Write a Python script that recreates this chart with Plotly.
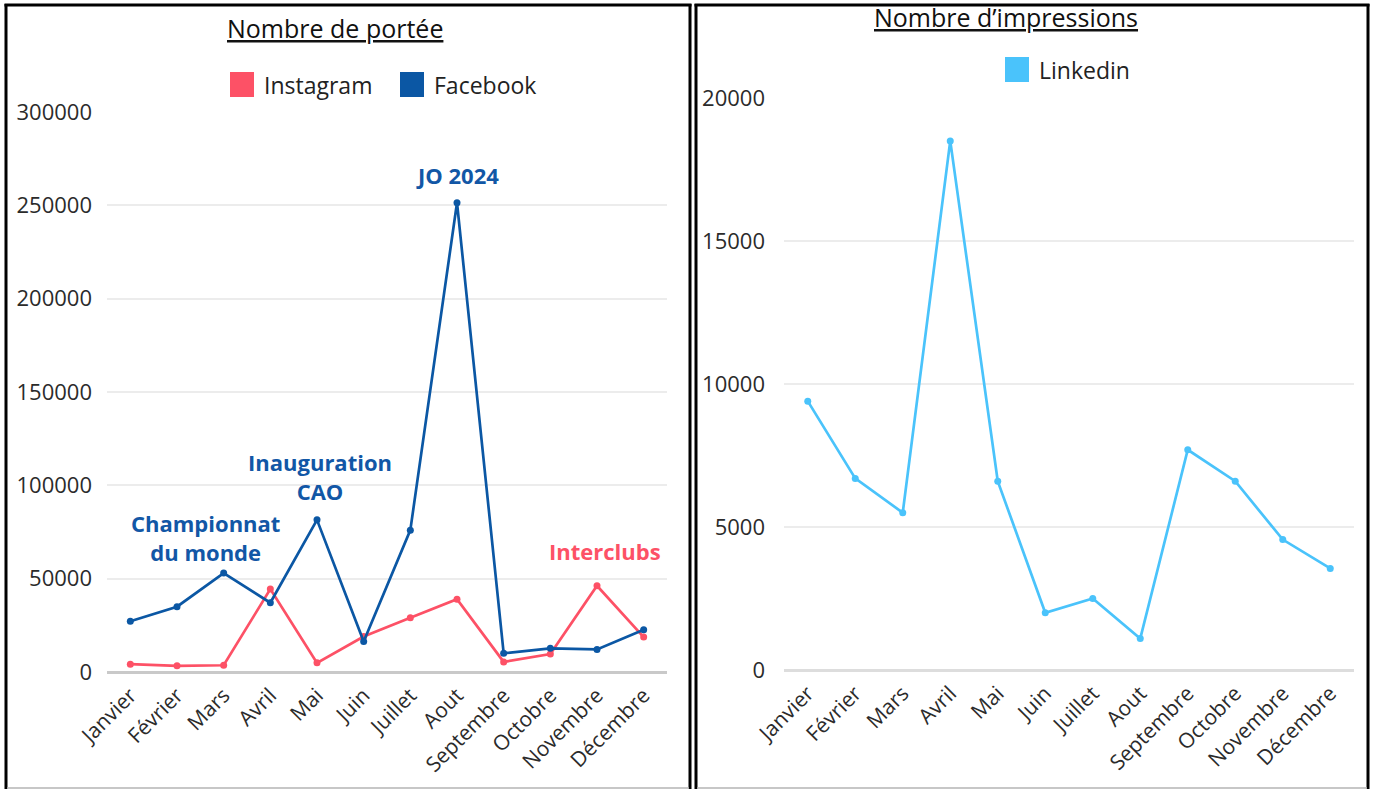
import plotly.graph_objects as go

W, H = 1376, 789

months = ["Janvier", "Février", "Mars", "Avril", "Mai", "Juin", "Juillet",
          "Aout", "Septembre", "Octobre", "Novembre", "Décembre"]
instagram = [4200, 3300, 3600, 44400, 4900, 19000, 29000, 39000, 5400, 9600, 46200, 18700]
facebook = [27200, 35000, 53000, 37100, 81500, 16300, 76000, 251400, 10000, 12700, 12100, 22600]
linkedin = [9400, 6700, 5500, 18500, 6600, 2000, 2500, 1100, 7700, 6600, 4560, 3550]

left_yticks = [0, 50000, 100000, 150000, 200000, 250000, 300000]
right_yticks = [0, 5000, 10000, 15000, 20000]

C_INSTA = "#fd5166"
C_FB = "#0b57a4"
C_LI = "#4ac3fb"
FONT = "Open Sans"


def px(x):
    return x / W


def py(y):
    return 1 - y / H


fig = go.Figure()

fig.add_trace(go.Scatter(x=months, y=instagram, name="Instagram", mode="lines+markers",
                         line=dict(color=C_INSTA, width=2.7), marker=dict(size=7, color=C_INSTA),
                         xaxis="x", yaxis="y", showlegend=False))
fig.add_trace(go.Scatter(x=months, y=facebook, name="Facebook", mode="lines+markers",
                         line=dict(color=C_FB, width=2.7), marker=dict(size=7, color=C_FB),
                         xaxis="x", yaxis="y", showlegend=False))
fig.add_trace(go.Scatter(x=months, y=linkedin, name="Linkedin", mode="lines+markers",
                         line=dict(color=C_LI, width=2.7), marker=dict(size=7, color=C_LI),
                         xaxis="x2", yaxis="y2", showlegend=False))

tickfont = dict(family=FONT, size=22, color="#2b2b2b")
xtickfont = dict(family=FONT, size=21, color="#2b2b2b")

fig.update_layout(
    width=W, height=H,
    margin=dict(l=0, r=0, t=0, b=0),
    paper_bgcolor="white", plot_bgcolor="white",
    showlegend=False,
    xaxis=dict(domain=[px(107), px(667)], type="category", range=[-0.5, 11.5],
               tickangle=-45, tickfont=xtickfont, showgrid=False, showline=False,
               ticks="", automargin=False, ticklabelstandoff=6),
    yaxis=dict(domain=[py(672), py(112)], range=[0, 300000], tickvals=left_yticks,
               ticktext=[str(v) for v in left_yticks], tickfont=tickfont,
               showgrid=True, gridcolor="#ececec", gridwidth=1.5,
               zeroline=True, zerolinecolor="#c9c9c9", zerolinewidth=2.5,
               showline=False, ticks="", automargin=False, ticklabelstandoff=14),
    xaxis2=dict(domain=[px(784), px(1354)], type="category", range=[-0.5, 11.5],
                tickangle=-45, tickfont=xtickfont, showgrid=False, showline=False,
                ticks="", automargin=False, ticklabelstandoff=6, anchor="y2"),
    yaxis2=dict(domain=[py(670), py(98)], range=[0, 20000], tickvals=right_yticks,
                ticktext=[str(v) for v in right_yticks], tickfont=tickfont,
                showgrid=True, gridcolor="#ececec", gridwidth=1.5,
                zeroline=True, zerolinecolor="#dddddd", zerolinewidth=2.5,
                showline=False, ticks="", automargin=False, ticklabelstandoff=18,
                anchor="x2"),
)

shapes = []
# panel borders
shapes.append(dict(type="line", xref="paper", yref="paper", x0=px(6), x1=px(6), y0=py(4), y1=py(789),
                   line=dict(color="black", width=3)))
shapes.append(dict(type="line", xref="paper", yref="paper", x0=px(4.5), x1=px(691.5), y0=py(5), y1=py(5),
                   line=dict(color="black", width=3)))
shapes.append(dict(type="line", xref="paper", yref="paper", x0=px(690), x1=px(690), y0=py(4), y1=py(789),
                   line=dict(color="black", width=3)))
shapes.append(dict(type="line", xref="paper", yref="paper", x0=px(696), x1=px(696), y0=py(4), y1=py(789),
                   line=dict(color="black", width=3)))
shapes.append(dict(type="line", xref="paper", yref="paper", x0=px(694.5), x1=px(1369.5), y0=py(5), y1=py(5),
                   line=dict(color="black", width=3)))
shapes.append(dict(type="line", xref="paper", yref="paper", x0=px(1368), x1=px(1368), y0=py(4), y1=py(789),
                   line=dict(color="black", width=3)))
shapes.append(dict(type="line", xref="paper", yref="paper", x0=px(7), x1=px(689), y0=py(788), y1=py(788),
                   line=dict(color="#b5b5b5", width=1.5)))
shapes.append(dict(type="line", xref="paper", yref="paper", x0=px(697), x1=px(1367), y0=py(788), y1=py(788),
                   line=dict(color="#b5b5b5", width=1.5)))

# legend squares
legend_items = [("Instagram", C_INSTA, 230, 72, 262),
                ("Facebook", C_FB, 400, 72, 432),
                ("Linkedin", C_LI, 1005, 57, 1037)]
annotations = []
for name, col, x0, y0, tx in legend_items:
    shapes.append(dict(type="rect", xref="paper", yref="paper", x0=px(x0), x1=px(x0 + 24),
                       y0=py(y0), y1=py(y0 + 25), fillcolor=col, line=dict(width=0)))
    annotations.append(dict(text=name, xref="paper", yref="paper", x=px(tx), y=py(y0 + 12.5),
                            xanchor="left", yanchor="middle", showarrow=False,
                            font=dict(family=FONT, size=23, color="#222222")))

# titles
annotations.append(dict(text="Nombre de portée", xref="paper", yref="paper", x=px(335), y=py(28),
                        xanchor="center", yanchor="middle", showarrow=False,
                        font=dict(family=FONT, size=25, color="#111111", weight=500, lineposition="under")))
annotations.append(dict(text="Nombre d’impressions", xref="paper", yref="paper", x=px(1006), y=py(17),
                        xanchor="center", yanchor="middle", showarrow=False,
                        font=dict(family=FONT, size=25, color="#111111", weight=500, lineposition="under")))

# event annotations
ev_font_b = dict(family=FONT, size=22, color="#1257a6", weight="bold")
ev_font_r = dict(family=FONT, size=22, color="#fd5166", weight="bold")
annotations.append(dict(text="JO 2024", xref="x", yref="y", x="Aout", y=266000, showarrow=False,
                        xanchor="center", yanchor="middle", font=ev_font_b))
annotations.append(dict(text="Inauguration<br>CAO", xref="x", yref="y", x=4.06, y=105000, showarrow=False,
                        xanchor="center", yanchor="middle", font=ev_font_b))
annotations.append(dict(text="Championnat<br>du monde", xref="x", yref="y", x=1.6, y=71800, showarrow=False,
                        xanchor="center", yanchor="middle", font=ev_font_b))
annotations.append(dict(text="Interclubs", xref="x", yref="y", x=10.17, y=64800, showarrow=False,
                        xanchor="center", yanchor="middle", font=ev_font_r))

fig.update_layout(shapes=shapes, annotations=annotations)

fig.write_html("out.html",
               config={"displayModeBar": False},
               post_script="document.body.style.margin='0';document.body.style.padding='0';"
                           "document.body.style.overflow='hidden';")
